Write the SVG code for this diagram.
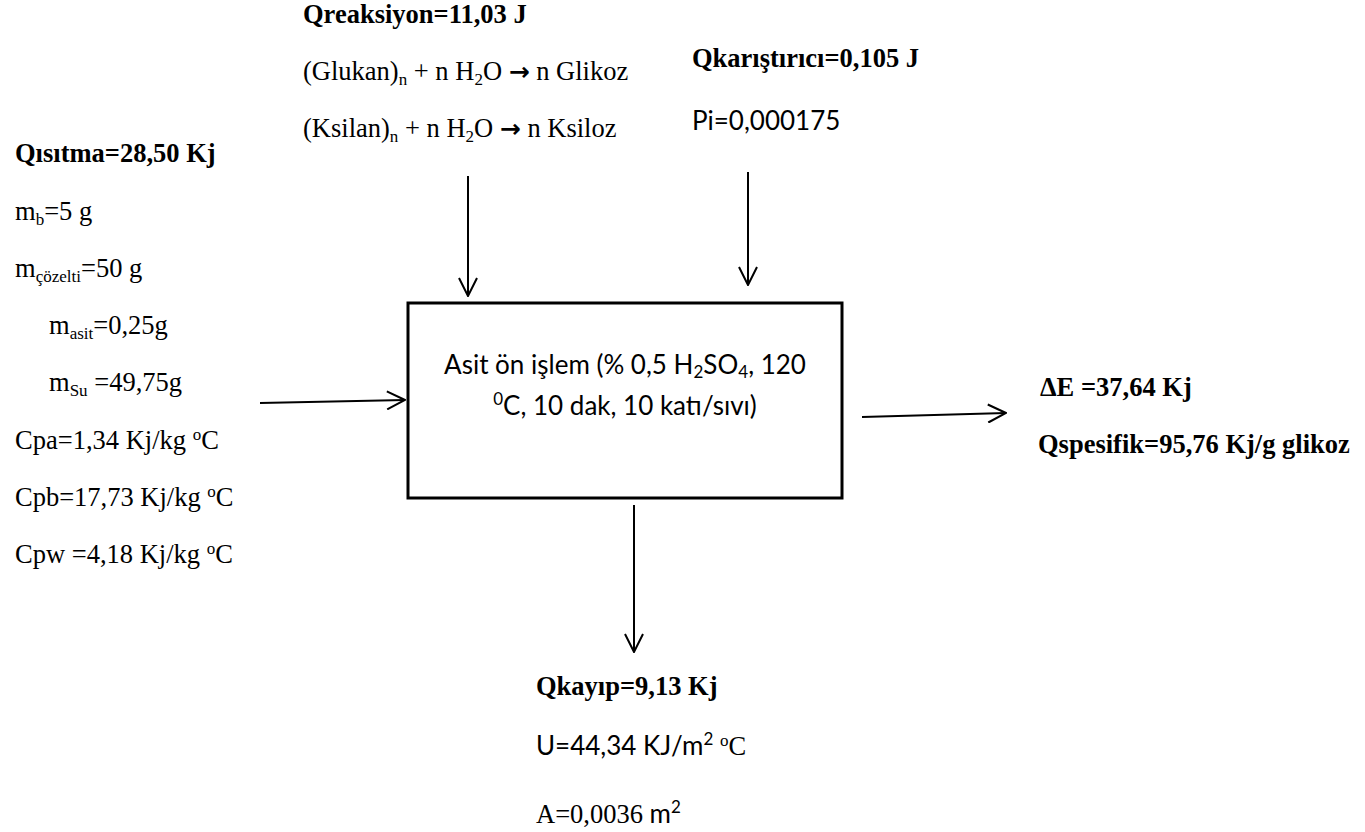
<svg xmlns="http://www.w3.org/2000/svg" width="1365" height="832" viewBox="0 0 1365 832">
<style>
.t{font-family:"Liberation Serif","Times New Roman",serif;font-size:26.5px;fill:#000}
.b{font-weight:bold}
.c{font-family:Lato,"Liberation Sans",sans-serif;font-size:26px;fill:#000}
.sub{font-size:17px}
.ar{font-family:"DejaVu Sans",sans-serif;font-weight:bold;font-size:25px}
.ln{stroke:#000;stroke-width:2;fill:none}
</style>
<defs>
<marker id="ah" viewBox="0 0 20 20" refX="19" refY="10" markerWidth="20" markerHeight="20" markerUnits="userSpaceOnUse" orient="auto">
<path d="M1,1 L19,10 L1,19" fill="none" stroke="#000" stroke-width="2"/>
</marker>
</defs>
<rect width="1365" height="832" fill="#fff"/>

<g id="heating">
<text class="t b" x="15" y="162">Qısıtma=28,50 Kj</text>
<text class="t" x="15" y="220">m<tspan class="sub" dy="5">b</tspan><tspan dy="-5">=5 g</tspan></text>
<text class="t" x="15" y="277">m<tspan class="sub" dy="5">çözelti</tspan><tspan dy="-5">=50 g</tspan></text>
<text class="t" x="49" y="334">m<tspan class="sub" dy="5">asit</tspan><tspan dy="-5">=0,25g</tspan></text>
<text class="t" x="49" y="391">m<tspan class="sub" dy="5">Su</tspan><tspan dy="-5"> =49,75g</tspan></text>
<text class="t" x="15" y="449">Cpa=1,34 Kj/kg <tspan class="sub" dy="-9">o</tspan><tspan dy="9">C</tspan></text>
<text class="t" x="15" y="506">Cpb=17,73 Kj/kg <tspan class="sub" dy="-9">o</tspan><tspan dy="9">C</tspan></text>
<text class="t" x="15" y="563">Cpw =4,18 Kj/kg <tspan class="sub" dy="-9">o</tspan><tspan dy="9">C</tspan></text>
</g>

<g id="reaction">
<text class="t b" x="303" y="23">Qreaksiyon=11,03 J</text>
<text class="t" x="303" y="80">(Glukan)<tspan class="sub" dy="5">n</tspan><tspan dy="-5"> + n H</tspan><tspan class="sub" dy="5">2</tspan><tspan dy="-5">O </tspan><tspan class="ar">→</tspan> n Glikoz</text>
<text class="t" x="303" y="137">(Ksilan)<tspan class="sub" dy="5">n</tspan><tspan dy="-5"> + n H</tspan><tspan class="sub" dy="5">2</tspan><tspan dy="-5">O </tspan><tspan class="ar">→</tspan> n Ksiloz</text>
</g>

<g id="mixer">
<text class="t b" x="692" y="67">Qkarıştırıcı=0,105 J</text>
<text class="c" x="692" y="130">Pi=0,000175</text>
</g>

<g id="process">
<rect x="408" y="303" width="434" height="195" fill="#fff" stroke="#000" stroke-width="3"/>
<text class="c" x="625" y="374" text-anchor="middle">Asit ön işlem (% 0,5 H<tspan class="sub" dy="4">2</tspan><tspan dy="-4">SO</tspan><tspan class="sub" dy="4">4</tspan><tspan dy="-4">, 120</tspan></text>
<text class="c" x="625" y="415" text-anchor="middle"><tspan class="sub" dy="-10">0</tspan><tspan dy="10">C, 10 dak, 10 katı/sıvı)</tspan></text>
</g>

<g id="output">
<text class="t b" x="1040" y="396">ΔE =37,64 Kj</text>
<text class="t b" x="1038" y="453">Qspesifik=95,76 Kj/g glikoz</text>
</g>

<g id="loss">
<text class="t b" x="536" y="695">Qkayıp=9,13 Kj</text>
<text class="c" x="536" y="755">U=44,34 KJ/m<tspan class="sub" dy="-10">2</tspan><tspan dy="10" class="t"> </tspan><tspan class="t sub" dy="-9">o</tspan><tspan class="t" dy="9">C</tspan></text>
<text class="t" x="536" y="823">A=0,0036 <tspan class="c">m</tspan><tspan class="c sub" dy="-10">2</tspan></text>
</g>

<g id="connectors">
<line class="ln" x1="260" y1="403" x2="405" y2="400" marker-end="url(#ah)"/>
<line class="ln" x1="468" y1="176" x2="468" y2="296" marker-end="url(#ah)"/>
<line class="ln" x1="748" y1="172" x2="748" y2="285" marker-end="url(#ah)"/>
<line class="ln" x1="634" y1="505" x2="634" y2="652" marker-end="url(#ah)"/>
<line class="ln" x1="862" y1="417" x2="1006" y2="413" marker-end="url(#ah)"/>
</g>
</svg>
